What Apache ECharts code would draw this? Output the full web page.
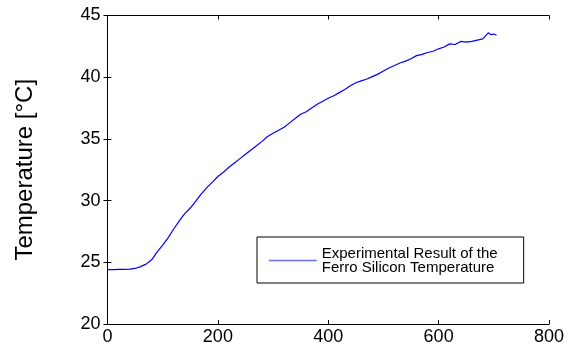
<!DOCTYPE html>
<html>
<head>
<meta charset="utf-8">
<script src="https://cdn.jsdelivr.net/npm/echarts@6/dist/echarts.min.js"></script>
<style>
html,body{margin:0;padding:0;background:#fff;}
#chart{width:571px;height:346px;}
</style>
</head>
<body>
<div id="chart"></div>
<script>
const timeValues = [0,10,20,30,40,50,60,70,80,90,100,110,120,130,140,150,160,170,180,190,200,210,220,230,240,250,260,270,280,290,300,310,320,330,340,350,360,370,380,390,400,410,420,430,440,450,460,470,480,490,500,510,520,530,540,550,560,570,580,590,600,610,620,630,640,650,660,670,680,690,695,700,705];
const tempValues = [24.4,24.4,24.42,24.42,24.45,24.5,24.65,24.85,25.2,25.85,26.4,27.0,27.7,28.35,28.95,29.4,29.95,30.55,31.05,31.5,31.95,32.3,32.7,33.05,33.4,33.75,34.1,34.45,34.8,35.2,35.45,35.7,35.95,36.3,36.65,37.0,37.2,37.5,37.8,38.05,38.3,38.5,38.75,39.0,39.3,39.55,39.7,39.85,40.05,40.25,40.5,40.75,40.95,41.15,41.3,41.5,41.75,41.85,42.0,42.1,42.3,42.45,42.7,42.65,42.9,42.85,42.9,43.0,43.1,43.6,43.45,43.5,43.4];
const seriesName = 'Experimental Result of the\nFerro Silicon Temperature';
const yAxisTitle = 'Temperature [°C]';
const xRange = {min: 0, max: 800, interval: 200};
const yRange = {min: 20, max: 45, interval: 5};

const chart = echarts.init(document.getElementById('chart'));
const font = 'Liberation Sans, Arial, sans-serif';
const axisCommon = {
  axisLine: {show: true, lineStyle: {color: '#000', width: 1}},
  axisTick: {show: true, inside: true, length: 4, lineStyle: {color: '#000'}},
  splitLine: {show: false}
};
chart.setOption({
  animation: false,
  backgroundColor: '#fff',
  grid: {left: 107.5, right: 22, top: 15.5, bottom: 20},
  xAxis: [
    Object.assign({type: 'value', position: 'bottom', min: xRange.min, max: xRange.max, interval: xRange.interval,
      axisLabel: {color: '#000', fontSize: 18, fontFamily: font, margin: 4}}, axisCommon),
    Object.assign({type: 'value', position: 'top', min: xRange.min, max: xRange.max, interval: xRange.interval,
      axisLabel: {show: false}}, axisCommon)
  ],
  yAxis: [
    Object.assign({type: 'value', position: 'left', min: yRange.min, max: yRange.max, interval: yRange.interval,
      name: yAxisTitle, nameLocation: 'middle', nameGap: 70, nameRotate: 90,
      nameTextStyle: {color: '#000', fontSize: 24, fontFamily: font},
      axisLabel: {color: '#000', fontSize: 18, fontFamily: font, margin: 7}}, axisCommon),
    Object.assign({type: 'value', position: 'right', min: yRange.min, max: yRange.max, interval: yRange.interval,
      axisLabel: {show: false}}, axisCommon)
  ],
  legend: {
    show: true,
    left: 257, top: 237,
    orient: 'vertical',
    padding: [9, 26, 8, 11],
    borderColor: '#000', borderWidth: 1,
    backgroundColor: '#fff',
    itemWidth: 48, itemHeight: 14, itemGap: 7,
    itemStyle: {opacity: 0},
    lineStyle: {color: '#6f6fff', width: 1.5},
    textStyle: {color: '#000', fontSize: 15, lineHeight: 14, fontFamily: font}
  },
  series: [{
    name: seriesName,
    type: 'line',
    xAxisIndex: 0, yAxisIndex: 0,
    symbol: 'none',
    data: timeValues.map((t, i) => [t, tempValues[i]]),
    color: '#0000ff',
    lineStyle: {color: '#0000ff', width: 1.2},
    itemStyle: {color: '#0000ff'}
  }]
});
</script>
</body>
</html>
